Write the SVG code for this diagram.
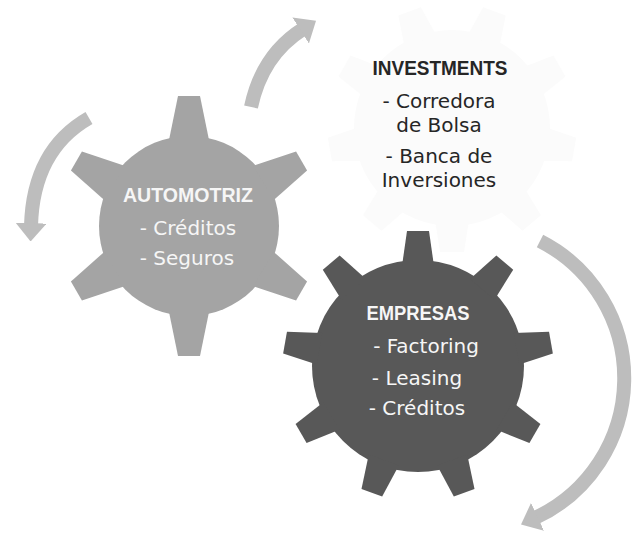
<svg xmlns="http://www.w3.org/2000/svg" width="632" height="538" viewBox="0 0 632 538">
<style>
.txt{font-family:"DejaVu Sans","Liberation Sans",sans-serif;font-size:20px;text-anchor:middle}
.hd{font-family:"Liberation Sans","DejaVu Sans",sans-serif;font-weight:bold;font-size:20px;text-anchor:middle}
.onGear{fill:#f6f6f6}
.ink{fill:#262626}
.arrow{fill:none;stroke:#bdbdbd;stroke-width:14;marker-end:url(#head)}
</style>
<defs>
<marker id="head" viewBox="0 0 13 22" markerWidth="1.3" markerHeight="2.2" refX="2" refY="11" orient="auto"><path d="M0,0 L13,11 L0,22 z" fill="#bdbdbd"/></marker>
<polygon id="toothA" points="-11,-130 11,-130 20,-86 -20,-86"/>
<polygon id="toothB" points="-11,-135 11,-135 16,-100 -16,-100"/>
<polygon id="toothC" points="-12,-124 12,-124 17,-92 -17,-92"/>
</defs>
<rect width="632" height="538" fill="#ffffff"/>

<g id="gear-investments">
<g transform="translate(452,128)" fill="#fbfbfb">
<circle r="98"/>
<use href="#toothC" transform="rotate(20)"/>
<use href="#toothC" transform="rotate(60)"/>
<use href="#toothC" transform="rotate(100)"/>
<use href="#toothC" transform="rotate(140)"/>
<use href="#toothC" transform="rotate(180)"/>
<use href="#toothC" transform="rotate(220)"/>
<use href="#toothC" transform="rotate(260)"/>
<use href="#toothC" transform="rotate(300)"/>
<use href="#toothC" transform="rotate(340)"/>
</g>
<text class="hd ink" x="440" y="75" textLength="135" lengthAdjust="spacingAndGlyphs">INVESTMENTS</text>
<text class="txt ink" x="439" y="108">- Corredora</text>
<text class="txt ink" x="439" y="132">de Bolsa</text>
<text class="txt ink" x="439" y="163">- Banca de</text>
<text class="txt ink" x="439" y="187">Inversiones</text>
</g>

<g id="gear-automotriz">
<g transform="translate(189,226)" fill="#a4a4a4">
<circle r="90"/>
<use href="#toothA"/>
<use href="#toothA" transform="rotate(60)"/>
<use href="#toothA" transform="rotate(120)"/>
<use href="#toothA" transform="rotate(180)"/>
<use href="#toothA" transform="rotate(240)"/>
<use href="#toothA" transform="rotate(300)"/>
</g>
<text class="hd onGear" x="188" y="202" textLength="130" lengthAdjust="spacingAndGlyphs">AUTOMOTRIZ</text>
<text class="txt onGear" x="188" y="235">- Créditos</text>
<text class="txt onGear" x="187" y="265">- Seguros</text>
</g>

<g id="gear-empresas">
<g transform="translate(418,366)" fill="#585858">
<circle r="106"/>
<use href="#toothB"/>
<use href="#toothB" transform="rotate(40)"/>
<use href="#toothB" transform="rotate(80)"/>
<use href="#toothB" transform="rotate(120)"/>
<use href="#toothB" transform="rotate(160)"/>
<use href="#toothB" transform="rotate(200)"/>
<use href="#toothB" transform="rotate(240)"/>
<use href="#toothB" transform="rotate(280)"/>
<use href="#toothB" transform="rotate(320)"/>
</g>
<text class="hd onGear" x="418" y="320" textLength="103" lengthAdjust="spacingAndGlyphs">EMPRESAS</text>
<text class="txt onGear" x="426" y="353">- Factoring</text>
<text class="txt onGear" x="417" y="385">- Leasing</text>
<text class="txt onGear" x="417" y="415">- Créditos</text>
</g>

<g id="connectors">
<path class="arrow" d="M251,107 Q262,55 303,29"/>
<path class="arrow" d="M89,118 Q33,150 31,226"/>
<path class="arrow" d="M540,241 A154,154 0 0 1 535,518"/>
</g>
</svg>
